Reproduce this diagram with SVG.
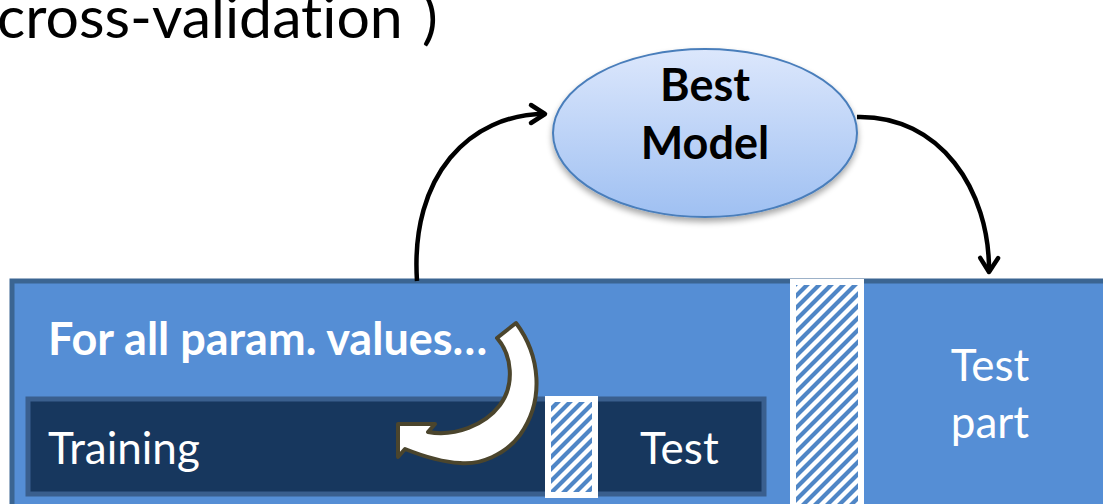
<svg xmlns="http://www.w3.org/2000/svg" width="1103" height="504" viewBox="0 0 1103 504">
<defs>
<style>
.t{font-family:Lato,"Open Sans","Liberation Sans",sans-serif;font-variant-ligatures:none;}
.w{fill:#ffffff;}
.b{font-weight:bold;}
.conn{fill:none;stroke:#000000;stroke-width:4.5;}
</style>
<linearGradient id="eg" x1="0" y1="0" x2="0" y2="1">
<stop offset="0" stop-color="#DCE7FC"/>
<stop offset="1" stop-color="#9FC0F2"/>
</linearGradient>
<pattern id="hatch" patternUnits="userSpaceOnUse" width="12" height="12">
<rect width="12" height="12" fill="#ffffff"/>
<path d="M-3,3 L3,-3 M0,12 L12,0 M9,15 L15,9" stroke="#4F86C6" stroke-width="4.2"/>
</pattern>
<marker id="ah" markerWidth="10" markerHeight="10" refX="7" refY="5" orient="auto" markerUnits="userSpaceOnUse" viewBox="0 0 10 10" overflow="visible">
<path d="M-7,-4 L7,5 L-7,14" fill="none" stroke="#000" stroke-width="4.5" stroke-linejoin="round" stroke-linecap="round"/>
</marker>
<filter id="sh" x="-20%" y="-20%" width="140%" height="150%">
<feGaussianBlur in="SourceAlpha" stdDeviation="3"/>
<feOffset dx="0" dy="4"/>
<feComponentTransfer><feFuncA type="linear" slope="0.35"/></feComponentTransfer>
<feMerge><feMergeNode/><feMergeNode in="SourceGraphic"/></feMerge>
</filter>
</defs>
<rect width="1103" height="504" fill="#ffffff"/>
<text class="t" x="-3" y="38" font-size="59" fill="#000">cross-validation</text>
<text class="t" x="422" y="38" font-size="59" fill="#000">)</text>

<g id="outer">
<rect x="12" y="281" width="1100" height="240" fill="#558ED5" stroke="#3B6592" stroke-width="5"/>
<text class="t w b" x="48" y="355" font-size="45">For all param. values…</text>
</g>
<g id="inner">
<rect x="28" y="399" width="736" height="95" fill="#17375E" stroke="#3A5F8E" stroke-width="5"/>
<text class="t w" x="48" y="464" font-size="44">Training</text>
<text class="t w" x="640" y="464" font-size="44">Test</text>
</g>
<g id="hatch-small">
<rect x="548" y="399" width="47" height="96" fill="url(#hatch)" stroke="#ffffff" stroke-width="6"/>
</g>
<g id="hatch-big">
<rect x="793" y="282" width="68" height="230" fill="url(#hatch)" stroke="#ffffff" stroke-width="6"/>
</g>
<g id="testpart">
<text class="t w" x="990" y="381" font-size="44" text-anchor="middle">Test</text>
<text class="t w" x="990" y="438" font-size="44" text-anchor="middle">part</text>
</g>
<g id="loop-arrow">
<path d="M516,323 C540,355 545,400 520,435 C505,455 480,465 460,463 C440,462 420,455 405,449 L398,457 L398,424 L435,424 L428,432 C455,437 485,425 500,405 C515,385 512,355 497,338 Z" fill="#ffffff" stroke="#4B452D" stroke-width="4" stroke-linejoin="round"/>
</g>
<g id="best-model">
<ellipse cx="705" cy="133" rx="152" ry="84" fill="url(#eg)" stroke="#4A7EBB" stroke-width="2" filter="url(#sh)"/>
<text class="t b" x="705" y="101" font-size="45" text-anchor="middle" fill="#000">Best</text>
<text class="t b" x="705" y="159" font-size="45" text-anchor="middle" fill="#000">Model</text>
</g>
<g id="connectors">
<path class="conn" d="M417,281 C410,175 470,114 545,114" marker-end="url(#ah)"/>
<path class="conn" d="M857,117 C940,115 990,190 989,272" marker-end="url(#ah)"/>
</g>
</svg>
